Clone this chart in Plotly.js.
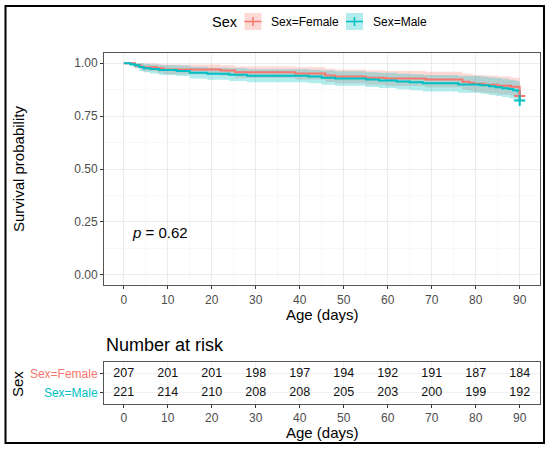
<!DOCTYPE html>
<html>
<head>
<meta charset="utf-8">
<script src="https://cdn.plot.ly/plotly-3.0.1.min.js"></script>
<style>html,body{margin:0;padding:0;background:#fff;}#chart{width:550px;height:449px;}</style>
</head>
<body>
<div id="chart"></div>
<script>
// ---- data ----
var femaleTime  = [0, 2.5, 4, 7.5, 9, 22, 25.3, 39, 45.8, 48, 55, 59.5, 68.6, 77, 78.5, 79.5, 82, 85, 88, 90];
var femaleSurv  = [1, 0.990, 0.981, 0.976, 0.971, 0.966, 0.957, 0.952, 0.942, 0.937, 0.932, 0.928, 0.923, 0.913, 0.908, 0.903, 0.899, 0.894, 0.889, 0.845];
var femaleUpper = [1, 1, 0.999, 0.997, 0.994, 0.991, 0.985, 0.981, 0.974, 0.970, 0.967, 0.964, 0.960, 0.952, 0.948, 0.944, 0.941, 0.937, 0.932, 0.896];
var femaleLower = [1, 0.976, 0.962, 0.955, 0.948, 0.941, 0.930, 0.923, 0.911, 0.905, 0.899, 0.893, 0.887, 0.875, 0.870, 0.864, 0.858, 0.852, 0.847, 0.797];

var maleTime  = [0, 1.5, 2.5, 3.5, 4.5, 6, 8, 12, 15, 19, 24, 28, 42, 45, 48, 55, 58, 62, 65, 68, 76, 81, 83, 84.5, 86, 87.5, 88.5, 89.5, 90];
var maleSurv  = [1, 0.995, 0.991, 0.982, 0.977, 0.973, 0.968, 0.964, 0.955, 0.950, 0.946, 0.941, 0.937, 0.932, 0.928, 0.923, 0.919, 0.914, 0.910, 0.905, 0.900, 0.896, 0.891, 0.887, 0.882, 0.878, 0.873, 0.869, 0.824];
var maleUpper = [1, 1, 1, 1, 0.997, 0.994, 0.991, 0.989, 0.983, 0.979, 0.976, 0.972, 0.969, 0.966, 0.962, 0.958, 0.955, 0.951, 0.948, 0.944, 0.940, 0.937, 0.933, 0.930, 0.926, 0.922, 0.918, 0.915, 0.876];
var maleLower = [1, 0.986, 0.978, 0.964, 0.957, 0.952, 0.945, 0.940, 0.928, 0.922, 0.916, 0.910, 0.905, 0.899, 0.894, 0.888, 0.883, 0.877, 0.872, 0.867, 0.861, 0.856, 0.850, 0.845, 0.840, 0.835, 0.829, 0.825, 0.775];

var femaleCensorTime = [90];
var maleCensorTime = [90];

var riskTime   = [0, 10, 20, 30, 40, 50, 60, 70, 80, 90];
var femaleRisk = [207, 201, 201, 198, 197, 194, 192, 191, 187, 184];
var maleRisk   = [221, 214, 210, 208, 208, 205, 203, 200, 199, 192];

var groupLabels = ['Sex=Female', 'Sex=Male'];
var xTicks = [0, 10, 20, 30, 40, 50, 60, 70, 80, 90];
var yTicks = [0, 0.25, 0.5, 0.75, 1];
var pValueText = '<i>p</i> = 0.62';

// ---- styling ----
var RED = '#F8766D', TEAL = '#00BFC4';
var RED_FILL = 'rgba(248,118,109,0.28)', TEAL_FILL = 'rgba(0,191,196,0.3)';
var FONT = 'Liberation Sans, Arial, Helvetica, sans-serif';
var W = 550, H = 449;
function px(x){ return x / W; }
function py(y){ return 1 - y / H; }

function survAt(times, surv, t) {
  var v = surv[0];
  for (var i = 0; i < times.length; i++) { if (times[i] <= t) v = surv[i]; }
  return v;
}

var traces = [
  {x: femaleTime, y: femaleLower, mode: 'lines', line: {shape: 'hv', width: 0, color: RED}, hoverinfo: 'skip', showlegend: false},
  {x: femaleTime, y: femaleUpper, mode: 'lines', fill: 'tonexty', fillcolor: RED_FILL, line: {shape: 'hv', width: 0, color: RED}, hoverinfo: 'skip', showlegend: false},
  {x: maleTime, y: maleLower, mode: 'lines', line: {shape: 'hv', width: 0, color: TEAL}, hoverinfo: 'skip', showlegend: false},
  {x: maleTime, y: maleUpper, mode: 'lines', fill: 'tonexty', fillcolor: TEAL_FILL, line: {shape: 'hv', width: 0, color: TEAL}, hoverinfo: 'skip', showlegend: false},
  {x: femaleTime, y: femaleSurv, mode: 'lines', line: {shape: 'hv', color: RED, width: 2}, hoverinfo: 'skip', showlegend: false},
  {x: maleTime, y: maleSurv, mode: 'lines', line: {shape: 'hv', color: TEAL, width: 2}, hoverinfo: 'skip', showlegend: false},
  {x: femaleCensorTime, y: femaleCensorTime.map(function(t){return survAt(femaleTime, femaleSurv, t);}), mode: 'markers',
   marker: {symbol: 'cross-thin-open', size: 8, color: RED, line: {color: RED, width: 2}}, hoverinfo: 'skip', showlegend: false, cliponaxis: false},
  {x: maleCensorTime, y: maleCensorTime.map(function(t){return survAt(maleTime, maleSurv, t);}), mode: 'markers',
   marker: {symbol: 'cross-thin-open', size: 8, color: TEAL, line: {color: TEAL, width: 2}}, hoverinfo: 'skip', showlegend: false, cliponaxis: false},
  {x: riskTime, y: riskTime.map(function(){return groupLabels[0];}), text: femaleRisk.map(String), mode: 'text',
   textfont: {family: FONT, size: 12.5, color: '#111'}, xaxis: 'x2', yaxis: 'y2', hoverinfo: 'skip', showlegend: false, cliponaxis: false},
  {x: riskTime, y: riskTime.map(function(){return groupLabels[1];}), text: maleRisk.map(String), mode: 'text',
   textfont: {family: FONT, size: 12.5, color: '#111'}, xaxis: 'x2', yaxis: 'y2', hoverinfo: 'skip', showlegend: false, cliponaxis: false}
];

var axisCommon = {
  showline: true, mirror: true, linecolor: '#555555', linewidth: 1,
  ticks: 'outside', ticklen: 3, tickcolor: '#333333', tickwidth: 1,
  tickfont: {family: FONT, size: 12, color: '#4D4D4D'},
  showgrid: true, gridcolor: '#EBEBEB', gridwidth: 1, zeroline: false, fixedrange: true
};

function merge(a, b){ var o = {}; for (var k in a) o[k] = a[k]; for (var k2 in b) o[k2] = b[k2]; return o; }

var layout = {
  width: W, height: H,
  margin: {l: 0, r: 0, t: 0, b: 0},
  paper_bgcolor: '#fff', plot_bgcolor: '#fff',
  showlegend: false,
  font: {family: FONT},
  xaxis: merge(axisCommon, {domain: [px(104), px(539.5)], anchor: 'y', range: [-4.5, 94.5], tickmode: 'array', tickvals: xTicks,
    minor: {tick0: 5, dtick: 10, showgrid: true, gridcolor: '#F3F3F3', gridwidth: 0.6, ticks: ''}}),
  yaxis: merge(axisCommon, {domain: [py(285.3), py(52.7)], anchor: 'x', range: [-0.05, 1.05], tickmode: 'array', tickvals: yTicks, tickformat: '.2f',
    minor: {tick0: 0.125, dtick: 0.25, showgrid: true, gridcolor: '#F3F3F3', gridwidth: 0.6, ticks: ''}}),
  xaxis2: merge(axisCommon, {domain: [px(104), px(539.5)], anchor: 'y2', range: [-4.5, 94.5], tickmode: 'array', tickvals: xTicks,
    gridcolor: '#F2F2F2'}),
  yaxis2: merge(axisCommon, {domain: [py(404), py(362.3)], anchor: 'x2', type: 'category',
    categoryorder: 'array', categoryarray: [groupLabels[1], groupLabels[0]], range: [-0.6, 1.6],
    tickmode: 'array', tickvals: [groupLabels[0], groupLabels[1]],
    ticktext: ['<span style="color:' + RED + '">' + groupLabels[0] + '</span>', '<span style="color:' + TEAL + '">' + groupLabels[1] + '</span>'],
    tickfont: {family: FONT, size: 12, color: '#4D4D4D'}, gridcolor: '#F2F2F2'}),
  annotations: [
    {xref: 'paper', yref: 'paper', x: px(18), y: py(169), text: 'Survival probability', textangle: -90, showarrow: false,
     font: {family: FONT, size: 15, color: '#000'}, xanchor: 'center', yanchor: 'middle'},
    {xref: 'paper', yref: 'paper', x: px(322), y: py(314), text: 'Age (days)', showarrow: false,
     font: {family: FONT, size: 15, color: '#000'}, xanchor: 'center', yanchor: 'middle'},
    {xref: 'x', yref: 'y', x: 1.4, y: 0.2, text: pValueText, showarrow: false,
     font: {family: FONT, size: 15, color: '#000'}, xanchor: 'left', yanchor: 'middle'},
    {xref: 'paper', yref: 'paper', x: px(104), y: py(345), text: 'Number at risk', showarrow: false,
     font: {family: FONT, size: 18, color: '#000'}, xanchor: 'left', yanchor: 'middle'},
    {xref: 'paper', yref: 'paper', x: px(17.5), y: py(383.5), text: 'Sex', textangle: -90, showarrow: false,
     font: {family: FONT, size: 15, color: '#000'}, xanchor: 'center', yanchor: 'middle'},
    {xref: 'paper', yref: 'paper', x: px(322), y: py(432), text: 'Age (days)', showarrow: false,
     font: {family: FONT, size: 15, color: '#000'}, xanchor: 'center', yanchor: 'middle'},
    // legend
    {xref: 'paper', yref: 'paper', x: px(210), y: py(21.5), text: 'Sex', showarrow: false,
     font: {family: FONT, size: 14.5, color: '#000'}, xanchor: 'left', yanchor: 'middle'},
    {xref: 'paper', yref: 'paper', x: px(268.5), y: py(21.5), text: groupLabels[0], showarrow: false,
     font: {family: FONT, size: 12, color: '#000'}, xanchor: 'left', yanchor: 'middle'},
    {xref: 'paper', yref: 'paper', x: px(370.5), y: py(21.5), text: groupLabels[1], showarrow: false,
     font: {family: FONT, size: 12, color: '#000'}, xanchor: 'left', yanchor: 'middle'}
  ],
  shapes: [
    // outer frame
    {type: 'rect', xref: 'paper', yref: 'paper', x0: px(5.5), x1: px(544), y0: py(443), y1: py(6), line: {color: '#000', width: 2}},
    // legend keys
    {type: 'rect', xref: 'paper', yref: 'paper', x0: px(244.5), x1: px(261.5), y0: py(30), y1: py(13), fillcolor: RED_FILL, line: {width: 0}},
    {type: 'line', xref: 'paper', yref: 'paper', x0: px(244.5), x1: px(261.5), y0: py(21.5), y1: py(21.5), line: {color: RED, width: 1.5}},
    {type: 'line', xref: 'paper', yref: 'paper', x0: px(253), x1: px(253), y0: py(17), y1: py(26), line: {color: RED, width: 1.5}},
    {type: 'rect', xref: 'paper', yref: 'paper', x0: px(346), x1: px(363), y0: py(30), y1: py(13), fillcolor: TEAL_FILL, line: {width: 0}},
    {type: 'line', xref: 'paper', yref: 'paper', x0: px(346), x1: px(363), y0: py(21.5), y1: py(21.5), line: {color: TEAL, width: 1.5}},
    {type: 'line', xref: 'paper', yref: 'paper', x0: px(354.5), x1: px(354.5), y0: py(17), y1: py(26), line: {color: TEAL, width: 1.5}}
  ]
};

Plotly.newPlot('chart', traces, layout, {displayModeBar: false, staticPlot: true});
</script>
</body>
</html>
